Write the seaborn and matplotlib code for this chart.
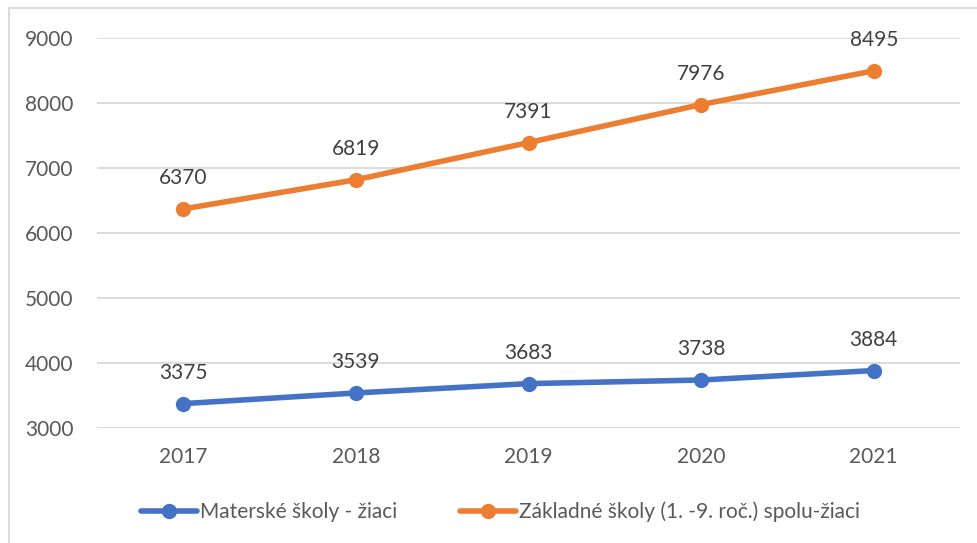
import matplotlib
matplotlib.use("Agg")
import matplotlib.pyplot as plt
import seaborn as sns
import pandas as pd
from matplotlib.patches import Rectangle

years = ["2017", "2018", "2019", "2020", "2021"]
materske = [3375, 3539, 3683, 3738, 3884]
zakladne = [6370, 6819, 7391, 7976, 8495]
series_names = ["Materské školy - žiaci", "Základné školy (1. -9. roč.) spolu-žiaci"]
colors = ["#4472C4", "#ED7D31"]
yticks = [3000, 4000, 5000, 6000, 7000, 8000, 9000]

df = pd.DataFrame({
    "rok": years * 2,
    "hodnota": materske + zakladne,
    "seria": [series_names[0]] * len(years) + [series_names[1]] * len(years),
})
df["pos"] = list(range(len(years))) * 2

sns.set_theme(style="white")
plt.rcParams["font.family"] = ["Lato", "DejaVu Sans"]

W, H = 978, 543
fig = plt.figure(figsize=(W / 100, H / 100), dpi=100)
ax = fig.add_axes([97 / W, 1 - 428 / H, (960 - 97) / W, (428 - 38) / H])

sns.lineplot(data=df, x="pos", y="hodnota", hue="seria", palette=colors,
             marker="o", markersize=11, markeredgewidth=0, linewidth=4,
             ax=ax, legend=False, zorder=3)

ax.set_xlim(-0.5, len(years) - 0.5)
ax.set_ylim(3000, 9000)
ax.set_yticks(yticks)
ax.set_yticklabels([str(v) for v in yticks])
ax.set_xticks(range(len(years)))
ax.set_xticklabels(years)
ax.set_xlabel("")
ax.set_ylabel("")
ax.grid(axis="y", color="#D9D9D9", linewidth=1.3, zorder=0)
for s in ax.spines.values():
    s.set_visible(False)
ax.tick_params(axis="both", length=0, labelsize=15, colors="#595959")
ax.tick_params(axis="y", pad=17)
ax.tick_params(axis="x", pad=14)

for vals in (materske, zakladne):
    for i, v in enumerate(vals):
        ax.annotate(str(v), (i, v), xytext=(0, 22), textcoords="offset points",
                    ha="center", va="center", fontsize=15, color="#404040")

# legend at the bottom
handles = [plt.Line2D([], [], color=c, linewidth=4, marker="o", markersize=11,
                      markeredgewidth=0) for c in colors]
fig.legend(handles, series_names, loc="center", bbox_to_anchor=(0.512, 1 - 512 / H),
           ncol=2, frameon=False, fontsize=15, labelcolor="#595959",
           handlelength=2.7, handletextpad=0.15, columnspacing=3.0)

# chart area border
fig.patches.append(Rectangle((9 / W, -0.1), 1.1, 1 - 8 / H + 0.1,
                             transform=fig.transFigure, fill=False,
                             edgecolor="#D9D9D9", linewidth=1.3))

fig.savefig("out.png", dpi=100)
